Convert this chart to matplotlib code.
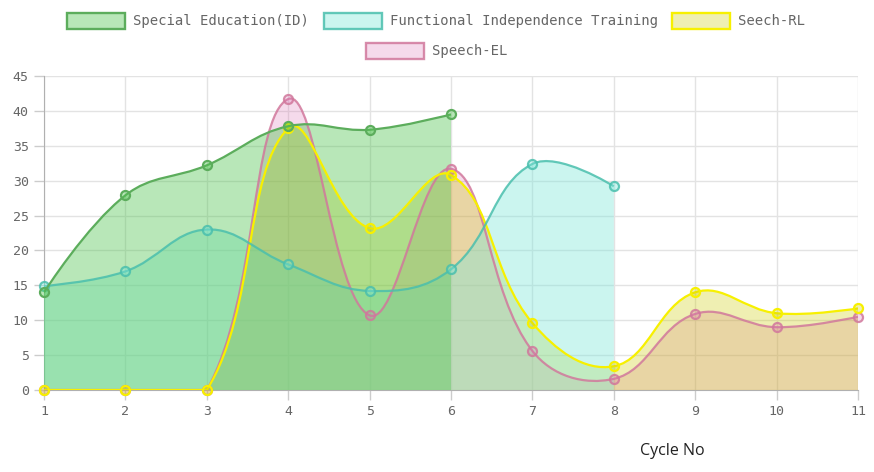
import numpy as np
import matplotlib
matplotlib.use("Agg")
import matplotlib.pyplot as plt
from matplotlib.path import Path
from matplotlib.patches import PathPatch, Rectangle

# data
cycles = [1, 2, 3, 4, 5, 6, 7, 8, 9, 10, 11]
special_ed = [14.0, 27.9, 32.2, 37.8, 37.3, 39.5]
functional = [14.9, 17.0, 23.0, 18.0, 14.2, 17.3, 32.4, 29.2]
speech_rl = [0, 0, 0, 37.5, 23.2, 30.8, 9.6, 3.4, 14.0, 11.0, 11.7]
speech_el = [0, 0, 0, 41.7, 10.7, 31.7, 5.6, 1.6, 10.9, 9.0, 10.5]
labels = ["Special Education(ID)", "Functional Independence Training", "Seech-RL", "Speech-EL"]

# styles: line colour (rgba), fill rgba
styles = [
    ((0.36, 0.68, 0.36, 1.0), (0.31, 0.77, 0.31, 0.40)),
    ((0.29, 0.75, 0.68, 0.85), (0.49, 0.90, 0.85, 0.40)),
    ((0.97, 0.94, 0.00, 1.0), (0.80, 0.80, 0.00, 0.30)),
    ((0.82, 0.47, 0.61, 0.85), (0.86, 0.43, 0.70, 0.25)),
]
series = [special_ed, functional, speech_rl, speech_el]

W, H = 874, 472
fig = plt.figure(figsize=(W / 100, H / 100), dpi=100)
L, R, T, B = 44, 858, 76, 390
ax = fig.add_axes([L / W, 1 - B / H, (R - L) / W, (B - T) / H])
ax.set_xlim(1, 11)
ax.set_ylim(0, 45)
sx = (R - L) / 10.0
sy = (B - T) / 45.0


def spline_path(xs, ys, tension=0.4, close=False):
    # chart.js style bezier control points (in pixel space)
    px = np.array(xs, float) * sx
    py = np.array(ys, float) * sy
    n = len(px)
    verts = [(xs[0], ys[0])]
    codes = [Path.MOVETO]
    cps = []
    for i in range(n):
        if i == 0 or i == n - 1:
            cps.append(((px[i], py[i]), (px[i], py[i])))
            continue
        d01 = np.hypot(px[i] - px[i - 1], py[i] - py[i - 1])
        d12 = np.hypot(px[i + 1] - px[i], py[i + 1] - py[i])
        s01 = d01 / (d01 + d12)
        s12 = d12 / (d01 + d12)
        fa, fb = tension * s01, tension * s12
        dx, dy = px[i + 1] - px[i - 1], py[i + 1] - py[i - 1]
        prev = (px[i] - fa * dx, min(max(py[i] - fa * dy, 0), 45 * sy))
        nxt = (px[i] + fb * dx, min(max(py[i] + fb * dy, 0), 45 * sy))
        cps.append((prev, nxt))
    for i in range(1, n):
        c1 = cps[i - 1][1]
        c2 = cps[i][0]
        verts += [(c1[0] / sx, c1[1] / sy), (c2[0] / sx, c2[1] / sy), (xs[i], ys[i])]
        codes += [Path.CURVE4] * 3
    if close:
        verts += [(xs[-1], 0), (xs[0], 0), (xs[0], ys[0])]
        codes += [Path.LINETO, Path.LINETO, Path.CLOSEPOLY]
    return Path(verts, codes)


# fills first (last dataset at the bottom), then lines and points on top
for k in range(3, -1, -1):
    ys = series[k]
    xs = cycles[:len(ys)]
    line_c, fill_c = styles[k]
    ax.add_patch(PathPatch(spline_path(xs, ys, close=True), facecolor=fill_c,
                           edgecolor="none", zorder=2 + (3 - k)))
for k in range(3, -1, -1):
    ys = series[k]
    xs = cycles[:len(ys)]
    line_c, fill_c = styles[k]
    z = 10 + 2 * (3 - k)
    ax.add_patch(PathPatch(spline_path(xs, ys), facecolor="none",
                           edgecolor=line_c, lw=1.6, zorder=z))
    ax.plot(xs, ys, "o", ms=6.5, mfc=fill_c, mec=line_c, mew=1.6,
            zorder=z + 1, clip_on=False)

ax.set_xticks(cycles)
ax.set_yticks(range(0, 46, 5))
ax.grid(True, color="#e3e3e3", lw=1)
ax.set_axisbelow(True)
for s in ["top", "right"]:
    ax.spines[s].set_visible(False)
for s in ["left", "bottom"]:
    ax.spines[s].set_color("#b0b0b0")
ax.tick_params(length=7, width=1, labelsize=9.5, pad=4)
ax.tick_params(axis="x", colors="#cccccc", labelcolor="#666666")
ax.tick_params(axis="y", colors="#cccccc", labelcolor="#666666")
for lab in ax.get_xticklabels() + ax.get_yticklabels():
    lab.set_family("DejaVu Sans Mono")

fig.text(672 / W, 1 - 451 / H, "Cycle No", ha="center", va="center",
         fontsize=11.5, family="Open Sans", color="#222222")

# legend drawn by hand (chart.js layout)
legend_pos = [(67, 13), (324, 13), (672, 13), (366, 43)]
for k, (bx, by) in enumerate(legend_pos):
    line_c, fill_c = styles[k]
    fig.add_artist(Rectangle((bx / W, 1 - (by + 16) / H), 58 / W, 16 / H,
                             facecolor=fill_c, edgecolor=line_c, lw=1.7,
                             transform=fig.transFigure))
    fig.text((bx + 66) / W, 1 - (by + 8) / H, labels[k], ha="left", va="center",
             fontsize=10, family="DejaVu Sans Mono", color="#666666")

fig.savefig("out.png", dpi=100)
